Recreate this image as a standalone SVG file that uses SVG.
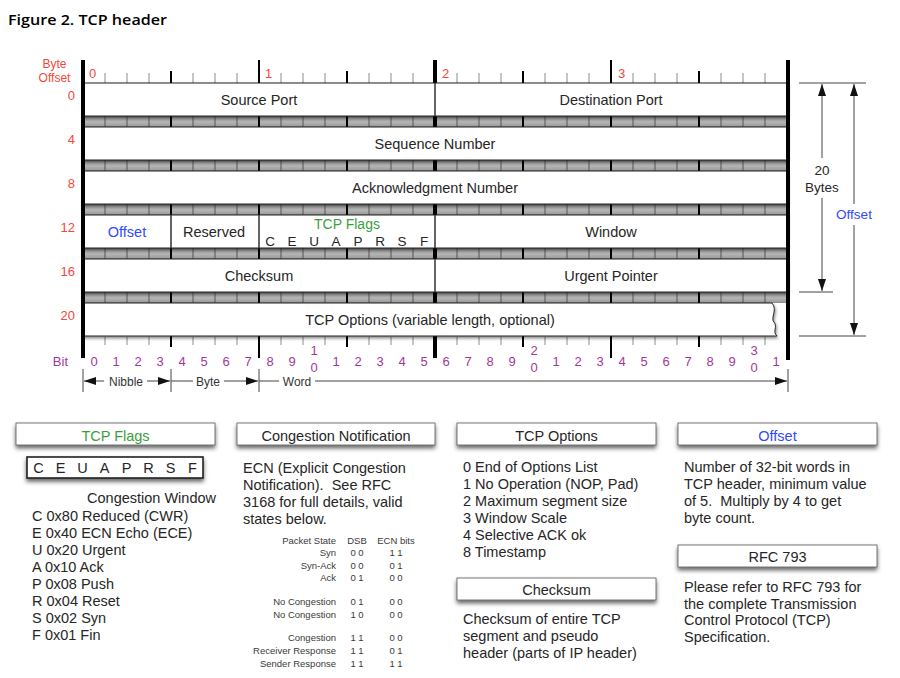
<svg xmlns="http://www.w3.org/2000/svg" width="900" height="678" viewBox="0 0 900 678">
<defs>
<style>
text{font-family:"Liberation Sans",Arial,Helvetica,sans-serif;fill:#262626;white-space:pre}
.f{font-size:14.5px;text-anchor:middle}
.l{font-size:14.5px}
.r{fill:#f2473a;font-size:13px}
.re{fill:#f2473a;font-size:13px;text-anchor:end}
.p{fill:#a1379b;font-size:13px;text-anchor:middle}
.s{font-size:9.5px;fill:#3a3a3a}
.se{font-size:9.5px;fill:#3a3a3a;text-anchor:end}
.sm{font-size:9.5px;fill:#3a3a3a;text-anchor:middle}
.d{font-size:12px;text-anchor:middle;fill:#333}
.row{fill:#fff;stroke:#222;stroke-width:1}
.div{stroke:#333;stroke-width:1.5}
.hb{fill:#fff;stroke:#555;stroke-width:0.8}
.dim{stroke:#444;stroke-width:1;fill:none}
</style>
<linearGradient id="bg" x1="0" y1="0" x2="0" y2="1">
<stop offset="0" stop-color="#7e7e7e"/><stop offset=".2" stop-color="#a4a4a4"/><stop offset=".55" stop-color="#b4b4b4"/><stop offset=".85" stop-color="#a2a2a2"/><stop offset="1" stop-color="#858585"/>
</linearGradient>
<pattern id="bp" x="82.5" y="116" width="22" height="44" patternUnits="userSpaceOnUse">
<rect width="22" height="11" fill="url(#bg)"/><rect width="1" height="11" fill="#555"/>
</pattern>
<filter id="sh" x="-5%" y="-30%" width="110%" height="180%"><feDropShadow dx="1" dy="2" stdDeviation="1.5" flood-color="#000" flood-opacity="0.45"/></filter>
<filter id="hs" x="-5%" y="-40%" width="110%" height="220%"><feDropShadow dx="0" dy="3" stdDeviation="2.2" flood-color="#000" flood-opacity="0.6"/></filter>
<marker id="ah" viewBox="0 0 12 8" refX="12" refY="4" markerWidth="12" markerHeight="8" markerUnits="userSpaceOnUse" orient="auto-start-reverse"><path d="M0,0 L12,4 L0,8 z" fill="#111"/></marker>
</defs>

<text x="8" y="25" style="font-family:'Open Sans','Liberation Sans',sans-serif;font-size:15px;font-weight:600;fill:#000" textLength="159" lengthAdjust="spacingAndGlyphs">Figure 2. TCP header</text>

<g id="ruler">
<text x="54.5" y="67.5" style="fill:#f2473a;font-size:12px;text-anchor:middle">Byte</text>
<text x="54.5" y="82" style="fill:#f2473a;font-size:12px;text-anchor:middle">Offset</text>
<text class="r" x="89" y="78">0</text>
<text class="r" x="265" y="78">1</text>
<text class="r" x="442" y="78">2</text>
<text class="r" x="618" y="78">3</text>
<text class="re" x="75" y="100">0</text>
<text class="re" x="75" y="144">4</text>
<text class="re" x="75" y="188">8</text>
<text class="re" x="75" y="232">12</text>
<text class="re" x="75" y="276">16</text>
<text class="re" x="75" y="320">20</text>
<rect x="83" y="116" width="704" height="187" fill="url(#bp)"/>
<path stroke="#8c8c8c" stroke-width="1" d="M105 73v10M127 73v10M149 73v10M193 73v10M215 73v10M237 73v10M281 73v10M303 73v10M325 73v10M369 73v10M391 73v10M413 73v10M457 73v10M479 73v10M501 73v10M545 73v10M567 73v10M589 73v10M633 73v10M655 73v10M677 73v10M721 73v10M743 73v10M765 73v10"/>
<path stroke="#8c8c8c" stroke-width="1" d="M105 337v8M127 337v8M149 337v8M193 337v8M215 337v8M237 337v8M281 337v8M303 337v8M325 337v8M369 337v8M391 337v8M413 337v8M457 337v8M479 337v8M501 337v8M545 337v8M567 337v8M589 337v8M633 337v8M655 337v8M677 337v8M721 337v8M743 337v8M765 337v8"/>
<path stroke="#000" stroke-width="2" d="M171 71V347M347 71V347M523 71V347M699 71V347M259 60V358M611 60V358"/>
<path stroke="#000" stroke-width="4" d="M435 60V358"/>
</g>

<g id="row0" filter="url(#sh)">
<rect class="row" x="83" y="83" width="704" height="33"/>
<line class="div" x1="435" y1="83" x2="435" y2="116"/>
</g>
<g id="f-srcport"><text class="f" x="259" y="104.5">Source Port</text></g>
<g id="f-dstport"><text class="f" x="611" y="104.5">Destination Port</text></g>

<g id="row4" filter="url(#sh)"><rect class="row" x="83" y="127" width="704" height="33"/></g>
<g id="f-seq"><text class="f" x="435" y="148.5">Sequence Number</text></g>

<g id="row8" filter="url(#sh)"><rect class="row" x="83" y="171" width="704" height="33"/></g>
<g id="f-ack"><text class="f" x="435" y="192.5">Acknowledgment Number</text></g>

<g id="row12" filter="url(#sh)">
<rect class="row" x="83" y="215" width="704" height="33"/>
<path class="div" d="M171 215V248M259 215V248M435 215V248"/>
</g>
<g id="f-offset"><text class="f" x="127" y="236.5" style="fill:#3149ff">Offset</text></g>
<g id="f-reserved"><text class="f" x="214" y="236.5">Reserved</text></g>
<g id="f-flags">
<text class="f" x="347" y="229" style="fill:#3aa03a;font-size:14px">TCP Flags</text>
<text style="font-size:13.5px;text-anchor:middle" y="245.5"><tspan x="270">C</tspan><tspan x="292">E</tspan><tspan x="314">U</tspan><tspan x="336">A</tspan><tspan x="358">P</tspan><tspan x="380">R</tspan><tspan x="402">S</tspan><tspan x="424">F</tspan></text>
</g>
<g id="f-window"><text class="f" x="611" y="236.5">Window</text></g>

<g id="row16" filter="url(#sh)">
<rect class="row" x="83" y="259" width="704" height="33"/>
<line class="div" x1="435" y1="259" x2="435" y2="292"/>
</g>
<g id="f-checksum"><text class="f" x="259" y="280.5">Checksum</text></g>
<g id="f-urgent"><text class="f" x="611" y="280.5">Urgent Pointer</text></g>

<g id="row20" filter="url(#sh)">
<path class="row" d="M83 303H772C778 310 770 318 774 322C778 327 772 332 777 336H83Z"/>
</g>
<g id="f-options"><text class="f" x="430" y="324.5">TCP Options (variable length, optional)</text></g>

<g id="bars">
<path stroke="#000" stroke-width="4" d="M83 60V358M788 60V360"/>
</g>

<g id="bits">
<text style="fill:#a1379b;font-size:13px;text-anchor:end" x="68" y="365.5">Bit</text>
<text class="p" y="365.5"><tspan x="94">0</tspan><tspan x="116">1</tspan><tspan x="138">2</tspan><tspan x="160">3</tspan><tspan x="182">4</tspan><tspan x="204">5</tspan><tspan x="226">6</tspan><tspan x="248">7</tspan><tspan x="270">8</tspan><tspan x="292">9</tspan><tspan x="336">1</tspan><tspan x="358">2</tspan><tspan x="380">3</tspan><tspan x="402">4</tspan><tspan x="424">5</tspan><tspan x="446">6</tspan><tspan x="468">7</tspan><tspan x="490">8</tspan><tspan x="512">9</tspan><tspan x="556">1</tspan><tspan x="578">2</tspan><tspan x="600">3</tspan><tspan x="622">4</tspan><tspan x="644">5</tspan><tspan x="666">6</tspan><tspan x="688">7</tspan><tspan x="710">8</tspan><tspan x="732">9</tspan><tspan x="776">1</tspan></text>
<text class="p" y="354.5"><tspan x="314">1</tspan><tspan x="534">2</tspan><tspan x="754">3</tspan></text>
<text class="p" y="371.5"><tspan x="314">0</tspan><tspan x="534">0</tspan><tspan x="754">0</tspan></text>
</g>

<g id="connectors">
<path class="dim" d="M83 369V392M171 369V392M259 369V392M788 369V392"/>
<line class="dim" x1="104" y1="381" x2="84" y2="381" marker-end="url(#ah)"/>
<line class="dim" x1="147" y1="381" x2="170" y2="381" marker-end="url(#ah)"/>
<line class="dim" x1="171" y1="381" x2="193" y2="381"/>
<line class="dim" x1="224" y1="381" x2="258" y2="381" marker-end="url(#ah)"/>
<line class="dim" x1="259" y1="381" x2="279" y2="381"/>
<line class="dim" x1="315" y1="381" x2="787" y2="381" marker-end="url(#ah)"/>
<path class="dim" d="M799 83H866M799 292H833M799 336H866"/>
<line class="dim" x1="822" y1="158" x2="822" y2="84" marker-end="url(#ah)"/>
<line class="dim" x1="822" y1="198" x2="822" y2="291" marker-end="url(#ah)"/>
<line class="dim" x1="854" y1="204" x2="854" y2="84" marker-end="url(#ah)"/>
<line class="dim" x1="854" y1="225" x2="854" y2="335" marker-end="url(#ah)"/>
</g>
<g id="dim-labels">
<text class="d" x="126" y="385.5">Nibble</text>
<text class="d" x="208" y="385.5">Byte</text>
<text class="d" x="297" y="385.5">Word</text>
<text x="822" y="175" style="font-size:13.5px;text-anchor:middle">20</text>
<text x="822" y="192" style="font-size:13.5px;text-anchor:middle">Bytes</text>
<text x="854" y="219" style="font-size:13.5px;text-anchor:middle;fill:#3149ff">Offset</text>
</g>

<g id="legend-flags">
<rect class="hb" x="16" y="423" width="199" height="22" filter="url(#hs)"/>
<text class="f" x="115.5" y="440.5" style="fill:#3aa03a">TCP Flags</text>
<rect x="27" y="457" width="176" height="21" fill="#fff" stroke="#222" stroke-width="1.6" filter="url(#hs)"/>
<text style="font-size:14.5px;text-anchor:middle" y="473"><tspan x="38.5">C</tspan><tspan x="60.5">E</tspan><tspan x="82.5">U</tspan><tspan x="104.5">A</tspan><tspan x="126.5">P</tspan><tspan x="148.5">R</tspan><tspan x="170.5">S</tspan><tspan x="192.5">F</tspan></text>
<text class="l" x="216" y="503" style="text-anchor:end">Congestion Window</text>
<text class="l" x="32" y="520.5">C 0x80 Reduced (CWR)</text>
<text class="l" x="32" y="537.5">E 0x40 ECN Echo (ECE)</text>
<text class="l" x="32" y="554.5">U 0x20 Urgent</text>
<text class="l" x="32" y="571.5">A 0x10 Ack</text>
<text class="l" x="32" y="588.5">P 0x08 Push</text>
<text class="l" x="32" y="605.5">R 0x04 Reset</text>
<text class="l" x="32" y="622.5">S 0x02 Syn</text>
<text class="l" x="32" y="639.5">F 0x01 Fin</text>
</g>

<g id="legend-ecn">
<rect class="hb" x="237" y="423" width="198" height="22" filter="url(#hs)"/>
<text class="f" x="336" y="440.5">Congestion Notification</text>
<text class="l" x="243" y="473">ECN (Explicit Congestion</text>
<text class="l" x="243" y="490">Notification).  See RFC</text>
<text class="l" x="243" y="507">3168 for full details, valid</text>
<text class="l" x="243" y="523.5">states below.</text>
<text class="se" x="336" y="544">Packet State</text><text class="sm" x="357" y="544">DSB</text><text class="sm" x="396" y="544">ECN bits</text>
<text class="se" x="336" y="556">Syn</text><text class="sm" x="357" y="556">0 0</text><text class="sm" x="396" y="556">1 1</text>
<text class="se" x="336" y="568.5">Syn-Ack</text><text class="sm" x="357" y="568.5">0 0</text><text class="sm" x="396" y="568.5">0 1</text>
<text class="se" x="336" y="581">Ack</text><text class="sm" x="357" y="581">0 1</text><text class="sm" x="396" y="581">0 0</text>
<text class="se" x="336" y="605">No Congestion</text><text class="sm" x="357" y="605">0 1</text><text class="sm" x="396" y="605">0 0</text>
<text class="se" x="336" y="617.5">No Congestion</text><text class="sm" x="357" y="617.5">1 0</text><text class="sm" x="396" y="617.5">0 0</text>
<text class="se" x="336" y="641">Congestion</text><text class="sm" x="357" y="641">1 1</text><text class="sm" x="396" y="641">0 0</text>
<text class="se" x="336" y="654">Receiver Response</text><text class="sm" x="357" y="654">1 1</text><text class="sm" x="396" y="654">0 1</text>
<text class="se" x="336" y="666.5">Sender Response</text><text class="sm" x="357" y="666.5">1 1</text><text class="sm" x="396" y="666.5">1 1</text>
</g>

<g id="legend-options">
<rect class="hb" x="457" y="423" width="199" height="22" filter="url(#hs)"/>
<text class="f" x="556.5" y="440.5">TCP Options</text>
<text class="l" x="463" y="472">0 End of Options List</text>
<text class="l" x="463" y="489">1 No Operation (NOP, Pad)</text>
<text class="l" x="463" y="505.5">2 Maximum segment size</text>
<text class="l" x="463" y="522.5">3 Window Scale</text>
<text class="l" x="463" y="539.5">4 Selective ACK ok</text>
<text class="l" x="463" y="556.5">8 Timestamp</text>
</g>

<g id="legend-checksum">
<rect class="hb" x="457" y="578" width="199" height="22" filter="url(#hs)"/>
<text class="f" x="556.5" y="594.5">Checksum</text>
<text class="l" x="463" y="624">Checksum of entire TCP</text>
<text class="l" x="463" y="641">segment and pseudo</text>
<text class="l" x="463" y="658">header (parts of IP header)</text>
</g>

<g id="legend-offset">
<rect class="hb" x="678" y="423" width="199" height="22" filter="url(#hs)"/>
<text class="f" x="777.5" y="440.5" style="fill:#3149ff">Offset</text>
<text class="l" x="684" y="472">Number of 32-bit words in</text>
<text class="l" x="684" y="489">TCP header, minimum value</text>
<text class="l" x="684" y="505.5">of 5.  Multiply by 4 to get</text>
<text class="l" x="684" y="522.5">byte count.</text>
</g>

<g id="legend-rfc">
<rect class="hb" x="678" y="545" width="199" height="22" filter="url(#hs)"/>
<text class="f" x="777.5" y="561.5">RFC 793</text>
<text class="l" x="684" y="591.5">Please refer to RFC 793 for</text>
<text class="l" x="684" y="608.5">the complete Transmission</text>
<text class="l" x="684" y="625">Control Protocol (TCP)</text>
<text class="l" x="684" y="642">Specification.</text>
</g>
</svg>
